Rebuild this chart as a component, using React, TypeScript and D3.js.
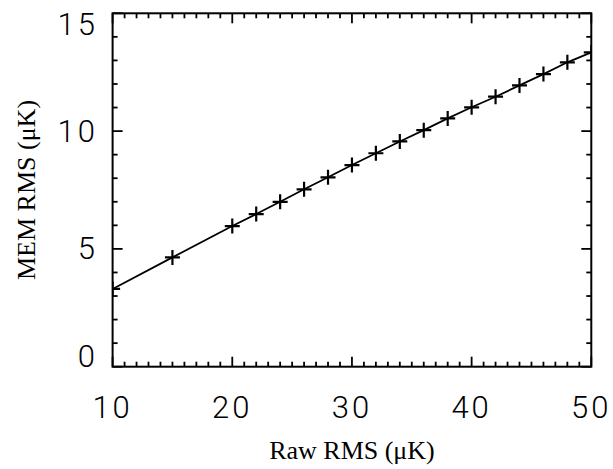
import React from "react";
import * as d3 from "d3";

const rawRms = [10, 15, 20, 22, 24, 26, 28, 30, 32, 34, 36, 38, 40, 42, 44, 46, 48, 50];
const memRms = [3.3, 4.64, 5.97, 6.48, 7.0, 7.53, 8.04, 8.56, 9.06, 9.56, 10.04, 10.54, 11.01, 11.46, 11.94, 12.42, 12.92, 13.34];
const xTicks = [10, 20, 30, 40, 50];
const yTicks = [0, 5, 10, 15];
const xMinor = d3.range(10, 51, 1);
const yMinor = d3.range(0, 16, 1);

export default function App() {
  const W = 613, H = 469;
  const left = 112.6, right = 591.3, top = 13.3, bottom = 366.7;
  const x = d3.scaleLinear().domain([10, 50]).range([left, right]);
  const y = d3.scaleLinear().domain([0, 15]).range([bottom, top]);
  const pts: [number, number][] = rawRms.map((v, i) => [v, memRms[i]]);
  const line = d3.line<[number, number]>().x(d => x(d[0])).y(d => y(d[1]));
  const major = 10, minor = 5;
  const tickFont = "Roboto, 'Liberation Sans', sans-serif";
  const s = 7.5;
  return (
    <svg width={W} height={H} style={{ position: "absolute", left: 0, top: 0, background: "#fff" }}>
      <defs>
        <clipPath id="plotclip">
          <rect x={left} y={top} width={right - left} height={bottom - top} />
        </clipPath>
      </defs>
      <g stroke="#000" strokeWidth={1.8} fill="none">
        {xMinor.filter(v => !xTicks.includes(v)).map(v => (
          <g key={"xm" + v}>
            <line x1={x(v)} x2={x(v)} y1={bottom} y2={bottom - minor} />
            <line x1={x(v)} x2={x(v)} y1={top} y2={top + minor} />
          </g>
        ))}
        {xTicks.map(v => (
          <g key={"xM" + v}>
            <line x1={x(v)} x2={x(v)} y1={bottom} y2={bottom - major} />
            <line x1={x(v)} x2={x(v)} y1={top} y2={top + major} />
          </g>
        ))}
        {yMinor.filter(v => !yTicks.includes(v)).map(v => (
          <g key={"ym" + v}>
            <line x1={left} x2={left + minor} y1={y(v)} y2={y(v)} />
            <line x1={right} x2={right - minor} y1={y(v)} y2={y(v)} />
          </g>
        ))}
        {yTicks.map(v => (
          <g key={"yM" + v}>
            <line x1={left} x2={left + major} y1={y(v)} y2={y(v)} />
            <line x1={right} x2={right - major} y1={y(v)} y2={y(v)} />
          </g>
        ))}
        <rect x={left} y={top} width={right - left} height={bottom - top} strokeWidth={2} />
      </g>
      <g clipPath="url(#plotclip)">
        <path d={line(pts) || ""} stroke="#000" strokeWidth={1.8} fill="none" />
        <g stroke="#000" strokeWidth={2.2}>
          {pts.map((d, i) => (
            <g key={"p" + i}>
              <line x1={x(d[0]) - s} x2={x(d[0]) + s} y1={y(d[1])} y2={y(d[1])} />
              <line x1={x(d[0])} x2={x(d[0])} y1={y(d[1]) - s} y2={y(d[1]) + s} />
            </g>
          ))}
        </g>
      </g>
      <g fontFamily={tickFont} fontWeight={300} fontSize={31} fill="#000">
        {xTicks.map(v => (
          <text key={"xl" + v} x={x(v)} y={418} textAnchor="middle" letterSpacing={3}>{v}</text>
        ))}
        {yTicks.map(v => (
          <text key={"yl" + v} x={98} y={Math.min(Math.max(y(v), top + 11), bottom - 10)}
            textAnchor="end" dominantBaseline="central" letterSpacing={3}>{v}</text>
        ))}
      </g>
      <text x={x(30)} y={459} textAnchor="middle" fontFamily="'Liberation Serif', 'Times New Roman', serif" fontSize={26}>Raw RMS (μK)</text>
      <text transform={`translate(35, ${y(7.5)}) rotate(-90)`} textAnchor="middle"
        fontFamily="'Liberation Serif', 'Times New Roman', serif" fontSize={26}>MEM RMS (μK)</text>
    </svg>
  );
}
